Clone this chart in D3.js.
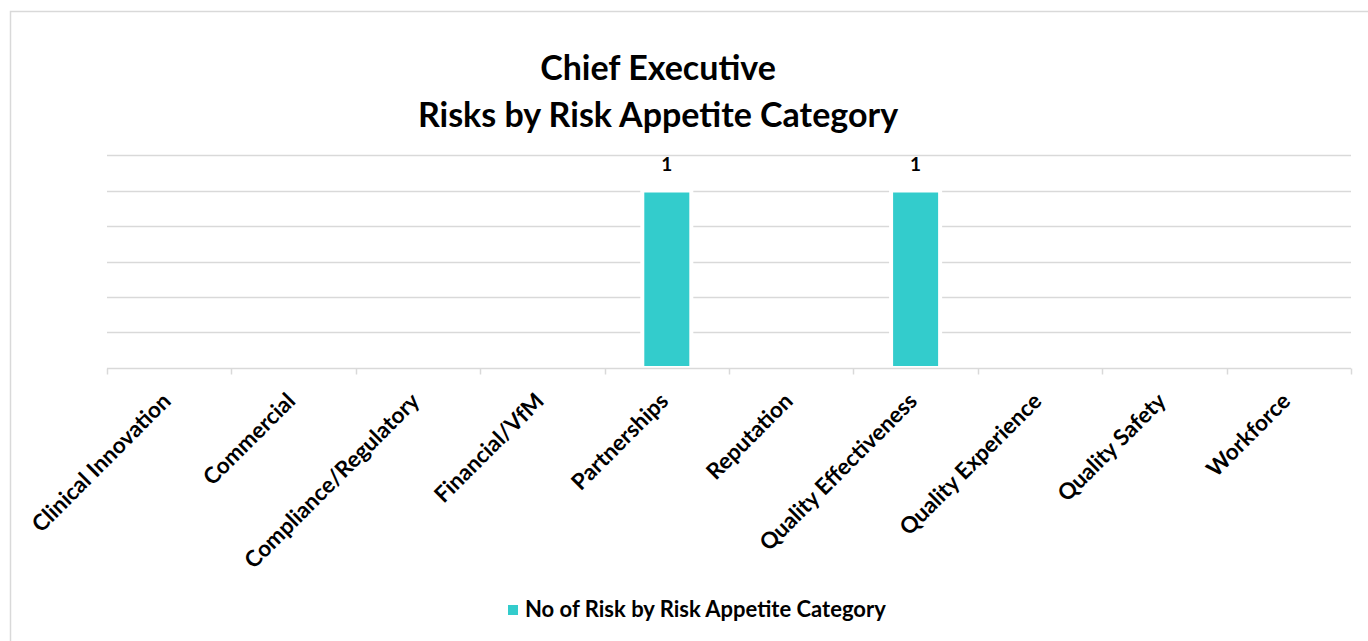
<!DOCTYPE html>
<html>
<head>
<meta charset="utf-8">
<script src="https://cdn.jsdelivr.net/npm/d3@7"></script>
<style>
  html, body { margin: 0; padding: 0; background: #fff; }
  svg { display: block; font-family: Lato, "Open Sans", sans-serif; }
</style>
</head>
<body>
<svg id="chart" width="1368" height="641"></svg>
<script>
// Risk appetite categories and the count of Chief Executive risks in each
const categories = [
  "Clinical Innovation", "Commercial", "Compliance/Regulatory", "Financial/VfM",
  "Partnerships", "Reputation", "Quality Effectiveness", "Quality Experience",
  "Quality Safety", "Workforce"
];
const riskCounts = [null, null, null, null, 1, null, 1, null, null, null];
const yTicks = [0, 0.2, 0.4, 0.6, 0.8, 1, 1.2];
const titleLines = ["Chief Executive", "Risks by Risk Appetite Category"];
const seriesName = "No of Risk by Risk Appetite Category";

const W = 1368, H = 641;
const margin = { left: 107, right: 17, top: 155, bottom: 273 };
const barColor = "#33CCCC";
const gridColor = "#d9d9d9";

const svg = d3.select("#chart");

// chart area frame
svg.append("rect")
  .attr("x", 10.5).attr("y", 11.5)
  .attr("width", W + 20).attr("height", H + 20)
  .attr("fill", "#fff").attr("stroke", gridColor).attr("stroke-width", 1.5);

const x = d3.scaleBand()
  .domain(categories)
  .range([margin.left, W - margin.right])
  .paddingInner(0.606).paddingOuter(0.303);

const y = d3.scaleLinear()
  .domain([0, 1.2])
  .range([H - margin.bottom, margin.top]);

// horizontal gridlines
svg.append("g")
  .selectAll("line")
  .data(yTicks.filter(t => t > 0))
  .join("line")
  .attr("x1", margin.left).attr("x2", W - margin.right)
  .attr("y1", d => Math.round(y(d)) + 0.5).attr("y2", d => Math.round(y(d)) + 0.5)
  .attr("stroke", gridColor).attr("stroke-width", 1.5);

// bars, with a white outline that breaks the gridlines around them
const data = categories.map((c, i) => ({ c, v: riskCounts[i] })).filter(d => d.v != null);
svg.append("g")
  .selectAll("rect")
  .data(data)
  .join("rect")
  .attr("x", d => x(d.c))
  .attr("width", x.bandwidth())
  .attr("y", d => y(d.v))
  .attr("height", d => y(0) - y(d.v))
  .attr("fill", barColor)
  .attr("stroke", "#fff").attr("stroke-width", 4);

// category axis with ticks at the band boundaries
const baseY = Math.round(y(0)) + 0.5;
const edges = d3.range(categories.length + 1).map(i => margin.left + i * (W - margin.left - margin.right) / categories.length);
const axis = svg.append("g");
axis.append("line")
  .attr("x1", margin.left).attr("x2", W - margin.right)
  .attr("y1", baseY).attr("y2", baseY)
  .attr("stroke", gridColor).attr("stroke-width", 1.5);
axis.selectAll("line.tick")
  .data(edges)
  .join("line").attr("class", "tick")
  .attr("x1", d => Math.round(d) + 0.5).attr("x2", d => Math.round(d) + 0.5)
  .attr("y1", baseY).attr("y2", baseY + 6)
  .attr("stroke", gridColor).attr("stroke-width", 1.5);

axis.selectAll("text")
  .data(categories)
  .join("text")
  .attr("transform", d => `translate(${x(d) + x.bandwidth() / 2 + 3},${baseY + 34}) rotate(-45)`)
  .attr("text-anchor", "end")
  .attr("font-size", 22.5)
  .attr("font-weight", 700)
  .attr("fill", "#000")
  .text(d => d);

// value labels
svg.append("g")
  .selectAll("text")
  .data(data)
  .join("text")
  .attr("x", d => x(d.c) + x.bandwidth() / 2)
  .attr("y", d => y(d.v) - 20)
  .attr("text-anchor", "middle")
  .attr("font-size", 19)
  .attr("font-weight", 700)
  .attr("fill", "#000")
  .text(d => d.v);

// title
svg.append("g")
  .selectAll("text")
  .data(titleLines)
  .join("text")
  .attr("x", 658)
  .attr("y", (d, i) => 80 + i * 46.5)
  .attr("text-anchor", "middle")
  .attr("font-size", 34)
  .attr("font-weight", 700)
  .attr("fill", "#000")
  .text(d => d);

// legend
const legend = svg.append("g").attr("transform", "translate(508,605)");
legend.append("rect").attr("width", 10).attr("height", 10).attr("fill", barColor);
legend.append("text")
  .attr("x", 17).attr("y", 12)
  .attr("font-size", 22)
  .attr("font-weight", 700)
  .attr("fill", "#000")
  .text(seriesName);
</script>
</body>
</html>
